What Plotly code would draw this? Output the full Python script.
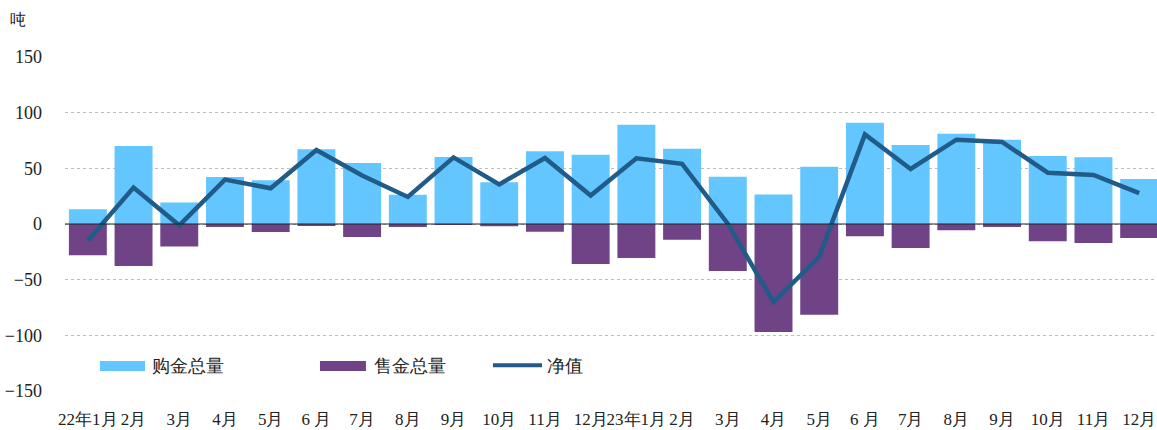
import plotly.graph_objects as go

months = ["22年1月", "2月", "3月", "4月", "5月", "6 月", "7月", "8月", "9月", "10月", "11月", "12月",
          "23年1月", "2月", "3月", "4月", "5月", "6 月", "7月", "8月", "9月", "10月", "11月", "12月"]
buy_total = [13.2, 70.1, 19.2, 42.2, 39.3, 67.1, 54.8, 26.3, 60.2, 37.4, 65.3, 62.3,
             89.2, 67.7, 42.5, 26.6, 51.5, 91.0, 71.0, 81.1, 75.7, 61.1, 59.9, 40.4]
sell_total = [-28.1, -37.7, -20.3, -2.7, -7.2, -1.2, -11.7, -2.7, -0.9, -2.1, -6.9, -35.9,
              -30.5, -14.1, -42.2, -97.0, -81.4, -11.1, -21.6, -5.7, -2.7, -15.6, -17.1, -12.6]
net_value = [-14.9, 32.7, -1.2, 39.9, 32.1, 66.5, 43.5, 24.3, 59.8, 35.6, 59.3, 25.6,
             59.0, 54.0, 0.3, -70.2, -29.5, 80.5, 49.4, 75.7, 73.7, 46.1, 44.0, 27.8]
y_ticks = [-150, -100, -50, 0, 50, 100, 150]

BLUE = "#63C6FE"
PURPLE = "#6F4385"
NAVY = "#215B89"
FONT = "Times New Roman, Liberation Serif, serif"

idx = list(range(len(months)))

fig = go.Figure()
fig.add_trace(go.Bar(x=idx, y=buy_total, name="购金总量", marker=dict(color=BLUE, line=dict(width=0)),
                     showlegend=False))
fig.add_trace(go.Bar(x=idx, y=sell_total, name="售金总量", marker=dict(color=PURPLE, line=dict(width=0)),
                     showlegend=False))
fig.add_trace(go.Scatter(x=idx, y=net_value, name="净值", mode="lines",
                         line=dict(color=NAVY, width=4.5), showlegend=False))

# zero line
fig.add_shape(type="line", xref="paper", yref="y", x0=0, x1=1, y0=0, y1=0,
              line=dict(color="#222222", width=1.2), layer="above")

# custom legend
legend_items = [
    ("rect", BLUE, "购金总量", 0.032, 0.0733, 0.0778),
    ("rect", PURPLE, "售金总量", 0.2335, 0.2756, 0.2811),
    ("line", NAVY, "净值", 0.3919, 0.4368, 0.4396),
]
for kind, color, label, x0, x1, xt in legend_items:
    if kind == "rect":
        fig.add_shape(type="rect", xref="paper", yref="paper", x0=x0, x1=x1, y0=0.0599, y1=0.0898,
                      fillcolor=color, line=dict(width=0), layer="above")
    else:
        fig.add_shape(type="line", xref="paper", yref="paper", x0=x0, x1=x1, y0=0.077, y1=0.077,
                      line=dict(color=color, width=4), layer="above")
    fig.add_annotation(text=label, xref="paper", yref="paper", x=xt, y=0.0749, xanchor="left",
                       yanchor="middle", showarrow=False, font=dict(size=18, color="#222222", family=FONT))

fig.add_annotation(text="吨", xref="paper", yref="paper", x=-0.043, y=1.111, xanchor="center",
                   yanchor="middle", showarrow=False, font=dict(size=16, color="#222222", family=FONT))

fig.update_layout(
    width=1157, height=430,
    margin=dict(l=65, r=0, t=57, b=39),
    barmode="relative",
    bargap=0.17,
    plot_bgcolor="white",
    paper_bgcolor="white",
    font=dict(family=FONT, size=18, color="#222222"),
    xaxis=dict(tickmode="array", tickvals=idx, ticktext=months, range=[-0.5, 23.39],
               showgrid=False, zeroline=False, showline=False, ticks="",
               ticklabelstandoff=16, tickfont=dict(size=17), tickangle=0,
               ticklabeloverflow="allow"),
    yaxis=dict(range=[-150, 150], tickvals=y_ticks, showgrid=True, gridcolor="#BDBDBD",
               griddash="dot", gridwidth=1, zeroline=False, showline=False, ticks="",
               ticklabelstandoff=22, tickfont=dict(size=18)),
)

fig.write_html("out.html", config={"displayModeBar": False},
               post_script="document.body.style.margin='0';document.body.style.overflow='hidden';")
